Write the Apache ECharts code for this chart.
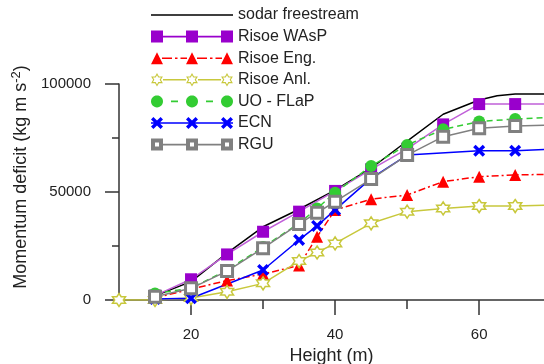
<!DOCTYPE html>
<html>
<head>
<meta charset="utf-8">
<script src="https://cdn.jsdelivr.net/npm/echarts@6/dist/echarts.min.js"></script>
<style>
html,body{margin:0;padding:0;background:#fff;}
#c{width:544px;height:364px;}
</style>
</head>
<body>
<div id="c"></div>
<script>
// ---- data ----
const seriesNames = ['sodar freestream','Risoe WAsP','Risoe Eng.','Risoe Anl.','UO - FLaP','ECN','RGU'];

const hSodar = [15,20,25,30,35,40,45,50,55,60,62.5,65,70];
const vSodar = [2000,8500,21700,33900,42000,50900,61000,73600,86000,92600,94600,95400,95400];

const hWasp = [15,20,25,30,35,40,45,50,55,60,65,70];
const vWasp = [2000,9600,21100,31600,40900,50500,60500,70000,81300,90700,90700,90700];

const hEng = [15,20,25,30,35,37.5,40,45,50,55,60,65,70];
const vEng = [1000,5000,9000,12000,16000,29300,41700,46700,48600,54800,57100,57900,58200];

const hAnl = [10,15,20,25,30,35,37.5,40,45,50,55,60,65,70];
const vAnl = [0,0,900,3800,7700,18000,22000,26200,35500,40900,42400,43500,43500,44000];

const hUO = [15,20,25,30,35,37.5,40,45,50,55,60,65,70];
const vUO = [3000,5500,13800,24500,35500,42400,49700,62000,71800,79000,82600,83800,84600];

const hECN = [15,20,30,35,37.5,40,45,50,60,65,70];
const vECN = [500,800,13900,27800,34300,41700,56300,67100,69100,69100,69800];

const hRGU = [15,20,25,30,35,37.5,40,45,50,55,60,65,70];
const vRGU = [1500,5400,13400,24000,35200,40400,45500,56000,67100,75600,79500,80600,81000];

const xMajorLabels = [20,40,60];
const xMinorTicks = [30,50];

// ---- helpers ----
const pairs = (h, v) => h.map((x, i) => [x, v[i]]);
const FONT = 'Liberation Sans, Arial, sans-serif';
const AX = '#333';
const TXT = '#222';

const starPath = 'path://M10,0 L12.89,5 L18.66,5 L15.77,10 L18.66,15 L12.89,15 L10,20 L7.11,15 L1.34,15 L4.23,10 L1.34,5 L7.11,5 Z';
const xPath = 'path://M0,2 L2,0 L5,3 L8,0 L10,2 L7,5 L10,8 L8,10 L5,7 L2,10 L0,8 L3,5 Z';

// ---- legend icon builders (line + three markers, like the reference) ----
const W = 82, H = 15, CY = 7.5, T = 1.6;
const MX = [6, 41, 76];
const poly = (pts, rev) => {
  const p = rev ? pts.slice().reverse() : pts;
  return 'M' + p.map(q => q[0].toFixed(2) + ',' + q[1].toFixed(2)).join(' L') + ' Z ';
};
const rect = (x1, y1, x2, y2, rev) => poly([[x1,y1],[x2,y1],[x2,y2],[x1,y2]], rev);
const hline = (x1, x2) => rect(x1, CY - T/2, x2, CY + T/2);
const square = (cx, s, rev) => rect(cx - s/2, CY - s/2, cx + s/2, CY + s/2, rev);
const tri = (cx, s) => poly([[cx, CY - s/2], [cx + s/2, CY + s/2], [cx - s/2, CY + s/2]]);
const circ = (cx, r) => { const p = []; for (let i = 0; i < 28; i++) { const a = -Math.PI + i * 2 * Math.PI / 28; p.push([cx + r*Math.cos(a), CY + r*Math.sin(a)]); } return poly(p); };
const cross = (cx, s) => poly([[0,2],[2,0],[5,3],[8,0],[10,2],[7,5],[10,8],[8,10],[5,7],[2,10],[0,8],[3,5]].map(q => [cx - s/2 + q[0]*s/10, CY - s/2 + q[1]*s/10]));
const star = (cx, R, rev) => { const p = []; for (let i = 0; i < 12; i++) { const a = -Math.PI/2 + i * Math.PI / 6; const r = i % 2 ? R / Math.sqrt(3) : R; p.push([cx + r*Math.cos(a), CY + r*Math.sin(a)]); } return poly(p, rev); };
const frame = 'M0,0 L0,0 Z M' + W + ',' + H + ' L' + W + ',' + H + ' Z ';
const icon = s => 'path://' + frame + s;

const iconSodar = icon(hline(0, W));
const iconWasp = icon(hline(0, W) + MX.map(x => square(x, 12)).join(''));
const iconEng = icon(MX.map(x => tri(x, 12)).join('') +
  [0, 35].map(o => hline(o + 11, o + 21) + hline(o + 24, o + 26.5) + hline(o + 29.5, o + 36)).join(''));
const iconAnl = icon(MX.map(x => star(x, 6.8) + star(x, 4.6, true)).join('') + hline(12, 35) + hline(47, 70));
const iconUO = icon(MX.map(x => circ(x, 6)).join('') + hline(20, 27) + hline(55, 62));
const iconECN = icon(hline(0, W) + MX.map(x => cross(x, 12)).join(''));
const iconRGU = icon(MX.map(x => square(x, 12) + square(x, 4, true)).join('') + hline(12, 35) + hline(47, 70));

const colors = ['#000000', '#9900cc', '#ff0000', '#c8c83c', '#33cc33', '#0000ff', '#808080'];
const icons = [iconSodar, iconWasp, iconEng, iconAnl, iconUO, iconECN, iconRGU];

const chart = echarts.init(document.getElementById('c'), null, {renderer: 'canvas'});

chart.setOption({
  animation: false,
  backgroundColor: '#fff',
  textStyle: {fontFamily: FONT},
  grid: {left: 119, top: 84, bottom: 64, right: 0, containLabel: false, outerBoundsMode: 'none'},
  legend: {
    orient: 'vertical', left: 151, top: 7, padding: 0,
    itemWidth: W, itemHeight: H, itemGap: 5.6,
    symbolKeepAspect: true,
    textStyle: {fontSize: 16, color: TXT, fontFamily: FONT},
    data: seriesNames.map((n, i) => ({
      name: n, icon: icons[i],
      itemStyle: {color: colors[i], borderWidth: 0, opacity: 1}
    }))
  },
  xAxis: [{
    type: 'value', min: 10, max: 69, interval: 10,
    axisLine: {show: true, onZero: false, lineStyle: {color: AX, width: 1.5}},
    axisTick: {show: true, customValues: xMajorLabels, length: 15, lineStyle: {color: AX, width: 1.5}},
    axisLabel: {customValues: xMajorLabels, margin: 27, fontSize: 15, color: TXT, fontFamily: FONT},
    splitLine: {show: false},
    name: 'Height (m)', nameLocation: 'middle', nameGap: 41,
    nameTextStyle: {fontSize: 18, color: TXT, fontFamily: FONT}
  }, {
    type: 'value', min: 10, max: 69, interval: 10, position: 'bottom', offset: 0,
    axisLine: {show: false},
    axisTick: {show: true, customValues: xMinorTicks, length: 9, lineStyle: {color: AX, width: 1.5}},
    axisLabel: {show: false},
    splitLine: {show: false}
  }],
  yAxis: {
    type: 'value', min: 0, max: 100000, interval: 50000,
    axisLine: {show: true, lineStyle: {color: AX, width: 1.5}},
    axisTick: {show: true, length: 14, lineStyle: {color: AX, width: 1.5}},
    minorTick: {show: true, splitNumber: 2, length: 7, lineStyle: {color: AX, width: 1.5}},
    axisLabel: {margin: 28, fontSize: 15, color: TXT, fontFamily: FONT, formatter: v => String(v)},
    splitLine: {show: false},
    name: '{a|Momentum deficit (kg m s}{s|-2}{a|)}',
    nameLocation: 'middle', nameGap: 74, nameRotate: 90,
    nameTextStyle: {
      color: TXT, fontFamily: FONT, padding: [0, 0, 0, 30],
      rich: {
        a: {fontSize: 18, color: TXT, fontFamily: FONT},
        s: {fontSize: 13, color: TXT, fontFamily: FONT, verticalAlign: 'top', padding: [0, 0, 9, 0]}
      }
    }
  },
  series: [
    {name: seriesNames[0], type: 'line', data: pairs(hSodar, vSodar), symbol: 'none',
     lineStyle: {color: '#000', width: 1.5}, itemStyle: {color: '#000'}},
    {name: seriesNames[1], type: 'line', data: pairs(hWasp, vWasp), symbol: 'rect', symbolSize: 12,
     lineStyle: {color: '#c060d8', width: 1.5}, itemStyle: {color: '#9900cc'}},
    {name: seriesNames[2], type: 'line', data: pairs(hEng, vEng), symbol: 'triangle', symbolSize: 12,
     lineStyle: {color: '#ff0000', width: 1.5, type: [7, 3, 2, 3]}, itemStyle: {color: '#ff0000'}},
    {name: seriesNames[3], type: 'line', data: pairs(hAnl, vAnl), symbol: starPath, symbolSize: 13,
     lineStyle: {color: '#c8c83c', width: 1.5}, itemStyle: {color: '#ffffff', borderColor: '#c8c83c', borderWidth: 1.5}},
    {name: seriesNames[4], type: 'line', data: pairs(hUO, vUO), symbol: 'circle', symbolSize: 12,
     lineStyle: {color: '#33cc33', width: 1.5, type: [6, 4]}, itemStyle: {color: '#33cc33'}},
    {name: seriesNames[5], type: 'line', data: pairs(hECN, vECN), symbol: xPath, symbolSize: 12,
     lineStyle: {color: '#0000ff', width: 1.5}, itemStyle: {color: '#0000ff'}},
    {name: seriesNames[6], type: 'line', data: pairs(hRGU, vRGU), symbol: 'rect', symbolSize: 11,
     lineStyle: {color: '#808080', width: 1.5}, itemStyle: {color: '#ffffff', borderColor: '#808080', borderWidth: 3}}
  ]
});
</script>
</body>
</html>
